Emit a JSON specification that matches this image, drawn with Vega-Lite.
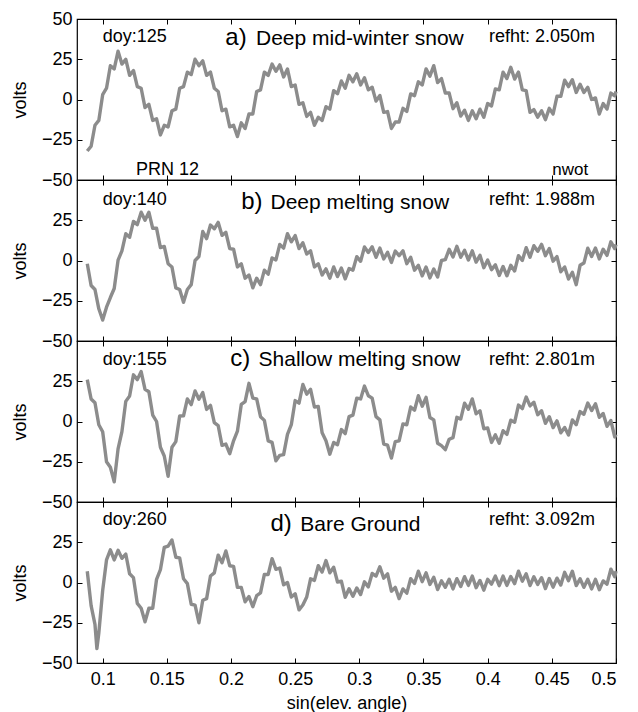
{
  "$schema": "https://vega.github.io/schema/vega-lite/v6.json",
  "padding": {"left": 10, "top": 9, "right": 20, "bottom": 0},
  "background": "white",
  "bounds": "flush",
  "spacing": 0,
  "config": {
    "view": {"stroke": "black", "strokeWidth": 1.2},
    "axis": {"labelFont": "Liberation Sans", "labelFontSize": 18, "titleFont": "Liberation Sans", "titleFontSize": 18, "titleFontWeight": "normal", "labelColor": "black", "titleColor": "black", "tickColor": "black", "domain": false, "grid": false, "tickSize": -5, "labelPadding": 10, "tickWidth": 1},
    "text": {"font": "Liberation Sans", "fontSize": 18, "align": "left", "baseline": "alphabetic", "color": "black"},
    "line": {"color": "#8c8c8c", "strokeWidth": 3.4, "clip": true, "strokeJoin": "round"}
  },
  "datasets": {
    "a": [
      {"x":0.088,"y":-32},{"x":0.091,"y":-29},{"x":0.094,"y":-16},{"x":0.097,"y":-13},{"x":0.1,"y":3},{"x":0.103,"y":7},{"x":0.106,"y":21},{"x":0.109,"y":19},{"x":0.112,"y":30},{"x":0.115,"y":22},{"x":0.118,"y":25},{"x":0.121,"y":15},
      {"x":0.124,"y":18},{"x":0.127,"y":8},{"x":0.13,"y":7},{"x":0.133,"y":-5},{"x":0.136,"y":-3},{"x":0.139,"y":-13},{"x":0.142,"y":-12},{"x":0.145,"y":-22},{"x":0.148,"y":-16},{"x":0.151,"y":-17},{"x":0.154,"y":-7},{"x":0.157,"y":-6},
      {"x":0.16,"y":7},{"x":0.163,"y":8},{"x":0.166,"y":17},{"x":0.169,"y":15.5},{"x":0.172,"y":25},{"x":0.175,"y":21},{"x":0.178,"y":24},{"x":0.181,"y":15},{"x":0.184,"y":17},{"x":0.187,"y":7},{"x":0.19,"y":5},{"x":0.193,"y":-7},
      {"x":0.196,"y":-6},{"x":0.199,"y":-17},{"x":0.202,"y":-16},{"x":0.205,"y":-23},{"x":0.208,"y":-14.5},{"x":0.211,"y":-18},{"x":0.214,"y":-9},{"x":0.217,"y":-9},{"x":0.22,"y":5},{"x":0.223,"y":6},{"x":0.226,"y":17},{"x":0.229,"y":15},
      {"x":0.232,"y":22},{"x":0.235,"y":17.5},{"x":0.238,"y":21.5},{"x":0.241,"y":14},{"x":0.244,"y":19},{"x":0.247,"y":8},{"x":0.25,"y":9},{"x":0.253,"y":-3},{"x":0.256,"y":-2},{"x":0.259,"y":-10.5},{"x":0.262,"y":-8},{"x":0.265,"y":-16},
      {"x":0.268,"y":-11},{"x":0.271,"y":-13},{"x":0.274,"y":-4.5},{"x":0.277,"y":-6},{"x":0.28,"y":5.5},{"x":0.283,"y":3.6},{"x":0.286,"y":11.5},{"x":0.289,"y":7},{"x":0.292,"y":15},{"x":0.295,"y":11},{"x":0.298,"y":16},{"x":0.301,"y":9},
      {"x":0.304,"y":13.5},{"x":0.307,"y":6},{"x":0.31,"y":7.6},{"x":0.313,"y":-1},{"x":0.316,"y":2.5},{"x":0.319,"y":-8},{"x":0.322,"y":-7.5},{"x":0.325,"y":-18},{"x":0.328,"y":-14},{"x":0.331,"y":-14},{"x":0.334,"y":-5.5},{"x":0.337,"y":-7.4},
      {"x":0.34,"y":3.5},{"x":0.343,"y":2.4},{"x":0.346,"y":11},{"x":0.349,"y":9},{"x":0.352,"y":19},{"x":0.355,"y":14.5},{"x":0.358,"y":21},{"x":0.361,"y":10.5},{"x":0.364,"y":13},{"x":0.367,"y":4},{"x":0.37,"y":4},{"x":0.373,"y":-5.7},
      {"x":0.376,"y":-2},{"x":0.379,"y":-10.3},{"x":0.382,"y":-6.7},{"x":0.385,"y":-13},{"x":0.388,"y":-7},{"x":0.391,"y":-12},{"x":0.394,"y":-6},{"x":0.397,"y":-11},{"x":0.4,"y":-2.5},{"x":0.403,"y":-4},{"x":0.406,"y":6.6},{"x":0.409,"y":6},
      {"x":0.412,"y":17},{"x":0.415,"y":13},{"x":0.418,"y":20},{"x":0.421,"y":12.7},{"x":0.424,"y":17},{"x":0.427,"y":6},{"x":0.43,"y":5.5},{"x":0.433,"y":-8},{"x":0.436,"y":-6.3},{"x":0.439,"y":-11},{"x":0.442,"y":-7},{"x":0.445,"y":-12.5},
      {"x":0.448,"y":-5.5},{"x":0.451,"y":-9},{"x":0.454,"y":2},{"x":0.457,"y":2},{"x":0.46,"y":12},{"x":0.463,"y":8},{"x":0.466,"y":12.3},{"x":0.469,"y":4.4},{"x":0.472,"y":9.5},{"x":0.475,"y":4.4},{"x":0.478,"y":7.6},{"x":0.481,"y":0},
      {"x":0.484,"y":1},{"x":0.487,"y":-9},{"x":0.49,"y":-2.5},{"x":0.493,"y":-6},{"x":0.496,"y":4},{"x":0.499,"y":2.3},{"x":0.5,"y":5}
    ],
    "b": [
      {"x":0.088,"y":-2},{"x":0.091,"y":-15.5},{"x":0.094,"y":-18},{"x":0.097,"y":-30},{"x":0.1,"y":-37},{"x":0.103,"y":-29},{"x":0.106,"y":-23},{"x":0.109,"y":-17.4},{"x":0.112,"y":0.2},{"x":0.115,"y":6},{"x":0.118,"y":16.6},{"x":0.121,"y":14.4},
      {"x":0.124,"y":24.3},{"x":0.127,"y":22.3},{"x":0.13,"y":30},{"x":0.133,"y":25},{"x":0.136,"y":30},{"x":0.139,"y":20},{"x":0.142,"y":20},{"x":0.145,"y":8},{"x":0.148,"y":8.7},{"x":0.151,"y":-2},{"x":0.154,"y":-4},{"x":0.157,"y":-17},
      {"x":0.16,"y":-18},{"x":0.163,"y":-26},{"x":0.166,"y":-18},{"x":0.169,"y":-15},{"x":0.172,"y":0},{"x":0.175,"y":2.5},{"x":0.178,"y":18},{"x":0.181,"y":13.6},{"x":0.184,"y":22},{"x":0.187,"y":19.7},{"x":0.19,"y":23.7},{"x":0.193,"y":15.6},
      {"x":0.196,"y":17.5},{"x":0.199,"y":7.4},{"x":0.202,"y":7},{"x":0.205,"y":-4},{"x":0.208,"y":-2},{"x":0.211,"y":-11},{"x":0.214,"y":-9},{"x":0.217,"y":-17},{"x":0.22,"y":-11},{"x":0.223,"y":-15},{"x":0.226,"y":-6},{"x":0.229,"y":-8.5},
      {"x":0.232,"y":1.6},{"x":0.235,"y":0.4},{"x":0.238,"y":10},{"x":0.241,"y":7.7},{"x":0.244,"y":16.7},{"x":0.247,"y":11.6},{"x":0.25,"y":15.5},{"x":0.253,"y":7.4},{"x":0.256,"y":11},{"x":0.259,"y":4},{"x":0.262,"y":6},{"x":0.265,"y":-4},
      {"x":0.268,"y":-2},{"x":0.271,"y":-9},{"x":0.274,"y":-5.2},{"x":0.277,"y":-11},{"x":0.28,"y":-4},{"x":0.283,"y":-10},{"x":0.286,"y":-4.7},{"x":0.289,"y":-11.4},{"x":0.292,"y":-5},{"x":0.295,"y":-6},{"x":0.298,"y":2.4},{"x":0.301,"y":-0.5},
      {"x":0.304,"y":8.4},{"x":0.307,"y":5},{"x":0.31,"y":8.5},{"x":0.313,"y":2},{"x":0.316,"y":7.7},{"x":0.319,"y":1},{"x":0.322,"y":5.1},{"x":0.325,"y":-1.2},{"x":0.328,"y":5.9},{"x":0.331,"y":3},{"x":0.334,"y":6},{"x":0.337,"y":-2},
      {"x":0.34,"y":2},{"x":0.343,"y":-6},{"x":0.346,"y":-3},{"x":0.349,"y":-9.5},{"x":0.352,"y":-4},{"x":0.355,"y":-10.8},{"x":0.358,"y":-5.3},{"x":0.361,"y":-10.3},{"x":0.364,"y":0},{"x":0.367,"y":0.5},{"x":0.37,"y":7},{"x":0.373,"y":2.2},
      {"x":0.376,"y":8.8},{"x":0.379,"y":2},{"x":0.382,"y":6.3},{"x":0.385,"y":0.3},{"x":0.388,"y":6},{"x":0.391,"y":-1},{"x":0.394,"y":3.2},{"x":0.397,"y":-4.5},{"x":0.4,"y":0.3},{"x":0.403,"y":-5.7},{"x":0.406,"y":-2.7},{"x":0.409,"y":-9.3},
      {"x":0.412,"y":-3.7},{"x":0.415,"y":-9.5},{"x":0.418,"y":-3},{"x":0.421,"y":-6.5},{"x":0.424,"y":3},{"x":0.427,"y":0},{"x":0.43,"y":8},{"x":0.433,"y":2},{"x":0.436,"y":9.2},{"x":0.439,"y":5.7},{"x":0.442,"y":10},{"x":0.445,"y":3},
      {"x":0.448,"y":7.4},{"x":0.451,"y":-0.4},{"x":0.454,"y":2.4},{"x":0.457,"y":-7},{"x":0.46,"y":-4},{"x":0.463,"y":-11.5},{"x":0.466,"y":-7.3},{"x":0.469,"y":-15},{"x":0.472,"y":-3},{"x":0.475,"y":-1.6},{"x":0.478,"y":7.6},{"x":0.481,"y":2.5},
      {"x":0.484,"y":7.8},{"x":0.487,"y":1},{"x":0.49,"y":7},{"x":0.493,"y":3.2},{"x":0.496,"y":11.6},{"x":0.499,"y":7.4},{"x":0.5,"y":10}
    ],
    "c": [
      {"x":0.088,"y":26},{"x":0.091,"y":14},{"x":0.094,"y":11.6},{"x":0.097,"y":-2},{"x":0.1,"y":-6.4},{"x":0.103,"y":-25},{"x":0.106,"y":-28.4},{"x":0.109,"y":-37.5},{"x":0.112,"y":-17},{"x":0.115,"y":-6.3},{"x":0.118,"y":12.5},{"x":0.121,"y":15.8},
      {"x":0.124,"y":29},{"x":0.127,"y":26},{"x":0.13,"y":31},{"x":0.133,"y":20},{"x":0.136,"y":18.5},{"x":0.139,"y":4},{"x":0.142,"y":0},{"x":0.145,"y":-16},{"x":0.148,"y":-21.4},{"x":0.151,"y":-34},{"x":0.154,"y":-16},{"x":0.157,"y":-12.5},
      {"x":0.16,"y":3.4},{"x":0.163,"y":3.5},{"x":0.166,"y":14},{"x":0.169,"y":10.5},{"x":0.172,"y":19},{"x":0.175,"y":13.8},{"x":0.178,"y":18},{"x":0.181,"y":7.5},{"x":0.184,"y":10},{"x":0.187,"y":-0.7},{"x":0.19,"y":-2.5},{"x":0.193,"y":-14.8},
      {"x":0.196,"y":-14},{"x":0.199,"y":-20},{"x":0.202,"y":-12},{"x":0.205,"y":-6},{"x":0.208,"y":10.6},{"x":0.211,"y":12.3},{"x":0.214,"y":23.7},{"x":0.217,"y":14.5},{"x":0.22,"y":14},{"x":0.223,"y":3},{"x":0.226,"y":0.7},{"x":0.229,"y":-12},
      {"x":0.232,"y":-13},{"x":0.235,"y":-24.4},{"x":0.238,"y":-21},{"x":0.241,"y":-20.6},{"x":0.244,"y":-8},{"x":0.247,"y":-2},{"x":0.25,"y":13},{"x":0.253,"y":11.4},{"x":0.256,"y":23},{"x":0.259,"y":17},{"x":0.262,"y":20},{"x":0.265,"y":9},
      {"x":0.268,"y":9.3},{"x":0.271,"y":-7},{"x":0.274,"y":-12},{"x":0.277,"y":-20.3},{"x":0.28,"y":-13},{"x":0.283,"y":-14.4},{"x":0.286,"y":-5},{"x":0.289,"y":-7.5},{"x":0.292,"y":3},{"x":0.295,"y":4},{"x":0.298,"y":14.5},{"x":0.301,"y":14},
      {"x":0.304,"y":22},{"x":0.307,"y":16},{"x":0.31,"y":14.5},{"x":0.313,"y":3},{"x":0.316,"y":1},{"x":0.319,"y":-14},{"x":0.322,"y":-14.7},{"x":0.325,"y":-22.7},{"x":0.328,"y":-12.5},{"x":0.331,"y":-12},{"x":0.334,"y":-1.5},{"x":0.337,"y":-2},
      {"x":0.34,"y":9},{"x":0.343,"y":7},{"x":0.346,"y":16},{"x":0.349,"y":9.5},{"x":0.352,"y":15},{"x":0.355,"y":2.5},{"x":0.358,"y":1},{"x":0.361,"y":-13.5},{"x":0.364,"y":-15},{"x":0.367,"y":-17.5},{"x":0.37,"y":-11},{"x":0.373,"y":-10},
      {"x":0.376,"y":2.6},{"x":0.379,"y":1.5},{"x":0.382,"y":11.4},{"x":0.385,"y":7.6},{"x":0.388,"y":14},{"x":0.391,"y":4.8},{"x":0.394,"y":6.7},{"x":0.397,"y":-4.5},{"x":0.4,"y":-4},{"x":0.403,"y":-13},{"x":0.406,"y":-8.3},{"x":0.409,"y":-13.5},
      {"x":0.412,"y":-5.7},{"x":0.415,"y":-8},{"x":0.418,"y":0.8},{"x":0.421,"y":-0.5},{"x":0.424,"y":10.2},{"x":0.427,"y":8},{"x":0.43,"y":15.2},{"x":0.433,"y":9.7},{"x":0.436,"y":12},{"x":0.439,"y":4.2},{"x":0.442,"y":6.7},{"x":0.445,"y":-1.1},
      {"x":0.448,"y":3},{"x":0.451,"y":-3.8},{"x":0.454,"y":0.4},{"x":0.457,"y":-7},{"x":0.46,"y":-3.7},{"x":0.463,"y":-8.4},{"x":0.466,"y":1},{"x":0.469,"y":-2},{"x":0.472,"y":6.2},{"x":0.475,"y":4.5},{"x":0.478,"y":11.5},{"x":0.481,"y":6.8},
      {"x":0.484,"y":11},{"x":0.487,"y":2.6},{"x":0.49,"y":5},{"x":0.493,"y":-3},{"x":0.496,"y":0.6},{"x":0.499,"y":-9.6},{"x":0.5,"y":-8}
    ],
    "d": [
      {"x":0.088,"y":7},{"x":0.091,"y":-14.4},{"x":0.094,"y":-26},{"x":0.0955,"y":-41},{"x":0.097,"y":-31.4},{"x":0.1,"y":-5},{"x":0.103,"y":14},{"x":0.106,"y":20.3},{"x":0.109,"y":14},{"x":0.112,"y":20},{"x":0.115,"y":15},{"x":0.118,"y":17.7},{"x":0.121,"y":5.4},
      {"x":0.124,"y":3},{"x":0.127,"y":-13},{"x":0.13,"y":-16},{"x":0.133,"y":-24.4},{"x":0.136,"y":-16},{"x":0.139,"y":-16},{"x":0.142,"y":2},{"x":0.145,"y":8},{"x":0.148,"y":21.8},{"x":0.151,"y":22.6},{"x":0.154,"y":26.4},{"x":0.157,"y":15.7},
      {"x":0.16,"y":15.3},{"x":0.163,"y":2.3},{"x":0.166,"y":-0.7},{"x":0.169,"y":-13.5},{"x":0.172,"y":-14},{"x":0.175,"y":-25},{"x":0.178,"y":-11},{"x":0.181,"y":-10},{"x":0.184,"y":4},{"x":0.187,"y":6},{"x":0.19,"y":17},{"x":0.193,"y":12.3},
      {"x":0.196,"y":19.6},{"x":0.199,"y":10.4},{"x":0.202,"y":10},{"x":0.205,"y":-3},{"x":0.208,"y":-3},{"x":0.211,"y":-12},{"x":0.214,"y":-8.7},{"x":0.217,"y":-15},{"x":0.22,"y":-8.2},{"x":0.223,"y":-6.5},{"x":0.226,"y":5},{"x":0.229,"y":5},
      {"x":0.232,"y":14.8},{"x":0.235,"y":8.2},{"x":0.238,"y":9},{"x":0.241,"y":-1.4},{"x":0.244,"y":0},{"x":0.247,"y":-9},{"x":0.25,"y":-7},{"x":0.253,"y":-17},{"x":0.256,"y":-14},{"x":0.259,"y":-9},{"x":0.262,"y":2.3},{"x":0.265,"y":1.3},
      {"x":0.268,"y":10.4},{"x":0.271,"y":6.5},{"x":0.274,"y":13.6},{"x":0.277,"y":6},{"x":0.28,"y":9.5},{"x":0.283,"y":0.3},{"x":0.286,"y":0.8},{"x":0.289,"y":-9.2},{"x":0.292,"y":-3.9},{"x":0.295,"y":-8.6},{"x":0.298,"y":-3.4},{"x":0.301,"y":-7.5},
      {"x":0.304,"y":0.4},{"x":0.307,"y":-2.7},{"x":0.31,"y":5.6},{"x":0.313,"y":4},{"x":0.316,"y":9.8},{"x":0.319,"y":2.7},{"x":0.322,"y":5.4},{"x":0.325,"y":-5.4},{"x":0.328,"y":-3},{"x":0.331,"y":-10},{"x":0.334,"y":-4},{"x":0.337,"y":-6.6},
      {"x":0.34,"y":2.4},{"x":0.343,"y":-0.6},{"x":0.346,"y":7},{"x":0.349,"y":0.5},{"x":0.352,"y":6},{"x":0.355,"y":-1.2},{"x":0.358,"y":3.2},{"x":0.361,"y":-4.4},{"x":0.364,"y":1},{"x":0.367,"y":-3},{"x":0.37,"y":2},{"x":0.373,"y":-4},
      {"x":0.376,"y":2.4},{"x":0.379,"y":-2.5},{"x":0.382,"y":3.6},{"x":0.385,"y":-1.8},{"x":0.388,"y":4},{"x":0.391,"y":-3.2},{"x":0.394,"y":1.3},{"x":0.397,"y":-4.8},{"x":0.4,"y":2},{"x":0.403,"y":-1},{"x":0.406,"y":4},{"x":0.409,"y":-2},
      {"x":0.412,"y":4},{"x":0.415,"y":-1.8},{"x":0.418,"y":3.7},{"x":0.421,"y":-0.7},{"x":0.424,"y":7},{"x":0.427,"y":0.8},{"x":0.43,"y":5.4},{"x":0.433,"y":-1.9},{"x":0.436,"y":3.6},{"x":0.439,"y":-1.2},{"x":0.442,"y":3},{"x":0.445,"y":-3.8},
      {"x":0.448,"y":2.5},{"x":0.451,"y":-2.9},{"x":0.454,"y":2.7},{"x":0.457,"y":-1.6},{"x":0.46,"y":6.3},{"x":0.463,"y":1.1},{"x":0.466,"y":7},{"x":0.469,"y":-1.9},{"x":0.472,"y":2.3},{"x":0.475,"y":-3},{"x":0.478,"y":2},{"x":0.481,"y":-4},
      {"x":0.484,"y":2},{"x":0.487,"y":-4.5},{"x":0.49,"y":1},{"x":0.493,"y":-1},{"x":0.496,"y":8.3},{"x":0.499,"y":3.6},{"x":0.5,"y":7}
    ]
  },
  "vconcat": [
    {
      "width": 539, "height": 161,
      "layer": [
        {"data": {"name": "a"}, "mark": "line",
         "encoding": {
           "x": {"field": "x", "type": "quantitative", "scale": {"domain": [0.08, 0.5], "nice": false, "zero": false}, "axis": {"orient": "bottom", "values": [0.1,0.15,0.2,0.25,0.3,0.35,0.4,0.45,0.5], "labels": false, "title": null}},
           "y": {"field": "y", "type": "quantitative", "scale": {"domain": [-50, 50], "nice": false}, "axis": {"orient": "left", "values": [-50,-25,0,25,50], "title": "volts", "titlePadding": 12}}
         }},
        {"data": {"name": "a"}, "mark": {"type": "point", "opacity": 0},
         "encoding": {
           "x": {"field": "x", "type": "quantitative", "axis": {"orient": "top", "values": [0.1,0.15,0.2,0.25,0.3,0.35,0.4,0.45,0.5], "labels": false, "title": null}},
           "y": {"field": "y", "type": "quantitative", "axis": {"orient": "right", "values": [-50,-25,0,25,50], "labels": false, "title": null}}
         }},
        {"data": {"values": [{}]}, "mark": {"type": "text", "text": "doy:125"}, "encoding": {"x": {"datum": 0.1, "type": "quantitative", "axis": null}, "y": {"datum": 36, "type": "quantitative", "axis": null}}},
        {"data": {"values": [{}]}, "mark": {"type": "text", "text": "a)", "fontSize": 24}, "encoding": {"x": {"datum": 0.1956, "type": "quantitative", "axis": null}, "y": {"datum": 34, "type": "quantitative", "axis": null}}},
        {"data": {"values": [{}]}, "mark": {"type": "text", "text": "Deep mid-winter snow", "fontSize": 21}, "encoding": {"x": {"datum": 0.2195, "type": "quantitative", "axis": null}, "y": {"datum": 34, "type": "quantitative", "axis": null}}},
        {"data": {"values": [{}]}, "mark": {"type": "text", "text": "refht: 2.050m"}, "encoding": {"x": {"datum": 0.401, "type": "quantitative", "axis": null}, "y": {"datum": 36, "type": "quantitative", "axis": null}}},
        {"data": {"values": [{}]}, "mark": {"type": "text", "text": "PRN 12"}, "encoding": {"x": {"datum": 0.126, "type": "quantitative", "axis": null}, "y": {"datum": -47, "type": "quantitative", "axis": null}}},
        {"data": {"values": [{}]}, "mark": {"type": "text", "text": "nwot", "fontSize": 17}, "encoding": {"x": {"datum": 0.4503, "type": "quantitative", "axis": null}, "y": {"datum": -47, "type": "quantitative", "axis": null}}}
      ],
      "resolve": {"axis": {"x": "independent", "y": "independent"}}
    },
    {
      "width": 539, "height": 161,
      "layer": [
        {"data": {"name": "b"}, "mark": "line",
         "encoding": {
           "x": {"field": "x", "type": "quantitative", "scale": {"domain": [0.08, 0.5], "nice": false, "zero": false}, "axis": {"orient": "bottom", "values": [0.1,0.15,0.2,0.25,0.3,0.35,0.4,0.45,0.5], "labels": false, "title": null}},
           "y": {"field": "y", "type": "quantitative", "scale": {"domain": [-50, 50], "nice": false}, "axis": {"orient": "left", "values": [-50,-25,0,25], "title": "volts", "titlePadding": 12}}
         }},
        {"data": {"name": "b"}, "mark": {"type": "point", "opacity": 0},
         "encoding": {
           "x": {"field": "x", "type": "quantitative", "axis": {"orient": "top", "values": [0.1,0.15,0.2,0.25,0.3,0.35,0.4,0.45,0.5], "labels": false, "title": null}},
           "y": {"field": "y", "type": "quantitative", "axis": {"orient": "right", "values": [-50,-25,0,25,50], "labels": false, "title": null}}
         }},
        {"data": {"values": [{}]}, "mark": {"type": "text", "text": "doy:140"}, "encoding": {"x": {"datum": 0.1, "type": "quantitative", "axis": null}, "y": {"datum": 34.5, "type": "quantitative", "axis": null}}},
        {"data": {"values": [{}]}, "mark": {"type": "text", "text": "b)", "fontSize": 24}, "encoding": {"x": {"datum": 0.208, "type": "quantitative", "axis": null}, "y": {"datum": 32, "type": "quantitative", "axis": null}}},
        {"data": {"values": [{}]}, "mark": {"type": "text", "text": "Deep melting snow", "fontSize": 21}, "encoding": {"x": {"datum": 0.2308, "type": "quantitative", "axis": null}, "y": {"datum": 32, "type": "quantitative", "axis": null}}},
        {"data": {"values": [{}]}, "mark": {"type": "text", "text": "refht: 1.988m"}, "encoding": {"x": {"datum": 0.401, "type": "quantitative", "axis": null}, "y": {"datum": 34.5, "type": "quantitative", "axis": null}}}
      ],
      "resolve": {"axis": {"x": "independent", "y": "independent"}}
    },
    {
      "width": 539, "height": 161,
      "layer": [
        {"data": {"name": "c"}, "mark": "line",
         "encoding": {
           "x": {"field": "x", "type": "quantitative", "scale": {"domain": [0.08, 0.5], "nice": false, "zero": false}, "axis": {"orient": "bottom", "values": [0.1,0.15,0.2,0.25,0.3,0.35,0.4,0.45,0.5], "labels": false, "title": null}},
           "y": {"field": "y", "type": "quantitative", "scale": {"domain": [-50, 50], "nice": false}, "axis": {"orient": "left", "values": [-50,-25,0,25], "title": "volts", "titlePadding": 12}}
         }},
        {"data": {"name": "c"}, "mark": {"type": "point", "opacity": 0},
         "encoding": {
           "x": {"field": "x", "type": "quantitative", "axis": {"orient": "top", "values": [0.1,0.15,0.2,0.25,0.3,0.35,0.4,0.45,0.5], "labels": false, "title": null}},
           "y": {"field": "y", "type": "quantitative", "axis": {"orient": "right", "values": [-50,-25,0,25,50], "labels": false, "title": null}}
         }},
        {"data": {"values": [{}]}, "mark": {"type": "text", "text": "doy:155"}, "encoding": {"x": {"datum": 0.1, "type": "quantitative", "axis": null}, "y": {"datum": 35, "type": "quantitative", "axis": null}}},
        {"data": {"values": [{}]}, "mark": {"type": "text", "text": "c)", "fontSize": 24}, "encoding": {"x": {"datum": 0.1995, "type": "quantitative", "axis": null}, "y": {"datum": 34.5, "type": "quantitative", "axis": null}}},
        {"data": {"values": [{}]}, "mark": {"type": "text", "text": "Shallow melting snow", "fontSize": 21}, "encoding": {"x": {"datum": 0.2215, "type": "quantitative", "axis": null}, "y": {"datum": 34.5, "type": "quantitative", "axis": null}}},
        {"data": {"values": [{}]}, "mark": {"type": "text", "text": "refht: 2.801m"}, "encoding": {"x": {"datum": 0.401, "type": "quantitative", "axis": null}, "y": {"datum": 35, "type": "quantitative", "axis": null}}}
      ],
      "resolve": {"axis": {"x": "independent", "y": "independent"}}
    },
    {
      "width": 539, "height": 161,
      "layer": [
        {"data": {"name": "d"}, "mark": "line",
         "encoding": {
           "x": {"field": "x", "type": "quantitative", "scale": {"domain": [0.08, 0.5], "nice": false, "zero": false}, "axis": {"orient": "bottom", "values": [0.1,0.15,0.2,0.25,0.3,0.35,0.4,0.45,0.5], "format": "~g", "title": "sin(elev. angle)", "titlePadding": 6, "labelPadding": 12}},
           "y": {"field": "y", "type": "quantitative", "scale": {"domain": [-50, 50], "nice": false}, "axis": {"orient": "left", "values": [-50,-25,0,25], "title": "volts", "titlePadding": 12}}
         }},
        {"data": {"name": "d"}, "mark": {"type": "point", "opacity": 0},
         "encoding": {
           "x": {"field": "x", "type": "quantitative", "axis": {"orient": "top", "values": [0.1,0.15,0.2,0.25,0.3,0.35,0.4,0.45,0.5], "labels": false, "title": null}},
           "y": {"field": "y", "type": "quantitative", "axis": {"orient": "right", "values": [-50,-25,0,25,50], "labels": false, "title": null}}
         }},
        {"data": {"values": [{}]}, "mark": {"type": "text", "text": "doy:260"}, "encoding": {"x": {"datum": 0.1, "type": "quantitative", "axis": null}, "y": {"datum": 36, "type": "quantitative", "axis": null}}},
        {"data": {"values": [{}]}, "mark": {"type": "text", "text": "d)", "fontSize": 24}, "encoding": {"x": {"datum": 0.2308, "type": "quantitative", "axis": null}, "y": {"datum": 32, "type": "quantitative", "axis": null}}},
        {"data": {"values": [{}]}, "mark": {"type": "text", "text": "Bare Ground", "fontSize": 21}, "encoding": {"x": {"datum": 0.254, "type": "quantitative", "axis": null}, "y": {"datum": 32, "type": "quantitative", "axis": null}}},
        {"data": {"values": [{}]}, "mark": {"type": "text", "text": "refht: 3.092m"}, "encoding": {"x": {"datum": 0.401, "type": "quantitative", "axis": null}, "y": {"datum": 36, "type": "quantitative", "axis": null}}}
      ],
      "resolve": {"axis": {"x": "independent", "y": "independent"}}
    }
  ]
}
